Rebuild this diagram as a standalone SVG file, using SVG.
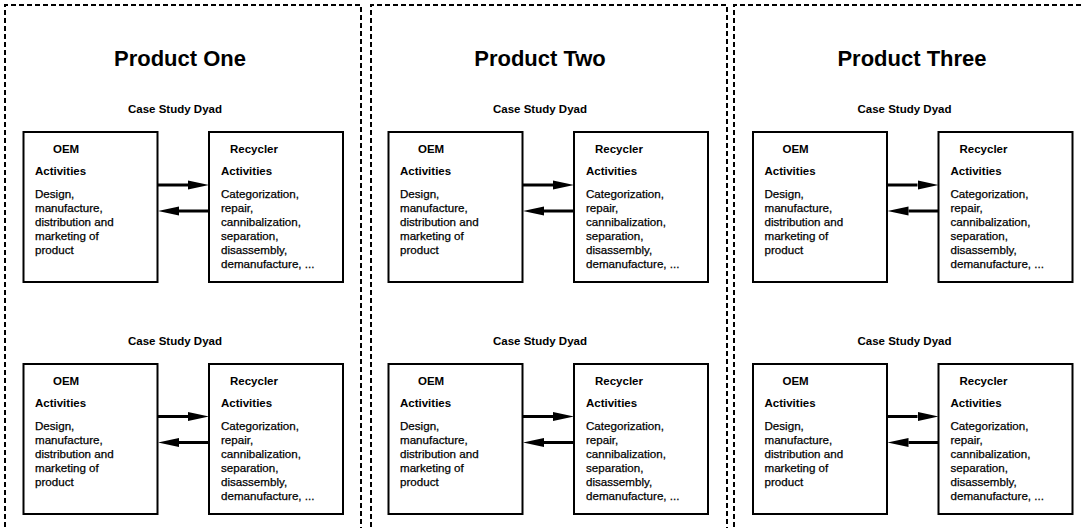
<svg xmlns="http://www.w3.org/2000/svg" xmlns:xlink="http://www.w3.org/1999/xlink" width="1081" height="528" viewBox="0 0 1081 528">
  <style>
    text { font-family: "Liberation Sans", Arial, Helvetica, sans-serif; fill: #000; }
    .title { font-size: 22px; font-weight: bold; text-anchor: middle; }
    .caption { font-size: 11.5px; font-weight: bold; text-anchor: middle; }
    .head { font-size: 11.5px; font-weight: bold; }
    .body { font-size: 11.6px; stroke: #000; stroke-width: 0.25; }
    .frame { fill: none; stroke: #000; stroke-width: 2; stroke-dasharray: 5 3; }
    .box { fill: #fff; stroke: #000; stroke-width: 2; }
    .flow { stroke: #000; stroke-width: 3; fill: none; }
  </style>
  <defs>
    <marker id="arrowhead" markerUnits="userSpaceOnUse" markerWidth="22" markerHeight="10" refX="0" refY="5" orient="auto" viewBox="0 0 22 10">
      <path d="M0,0.5 L21,5 L0,9.5 Z" fill="#000"/>
    </marker>

    <!-- one OEM / recycler pair, drawn at the first panel's top-row position -->
    <g id="oem-box">
      <rect class="box" x="23.5" y="132" width="134" height="150"/>
      <text class="head" x="53" y="153">OEM</text>
      <text class="head" x="35" y="175">Activities</text>
      <text class="body" x="35" y="197.5">Design,<tspan x="35" dy="14">manufacture,</tspan><tspan x="35" dy="14">distribution and</tspan><tspan x="35" dy="14">marketing of</tspan><tspan x="35" dy="14">product</tspan></text>
    </g>
    <g id="recycler-box">
      <rect class="box" x="209" y="132" width="134" height="150"/>
      <text class="head" x="230" y="153">Recycler</text>
      <text class="head" x="221" y="175">Activities</text>
      <text class="body" x="221" y="197.5">Categorization,<tspan x="221" dy="14">repair,</tspan><tspan x="221" dy="14">cannibalization,</tspan><tspan x="221" dy="14">separation,</tspan><tspan x="221" dy="14">disassembly,</tspan><tspan x="221" dy="14">demanufacture, ...</tspan></text>
    </g>
  </defs>

  <rect x="0" y="0" width="1081" height="528" fill="#fff"/>

  <!-- dashed product frames, open at the bottom -->
  <g id="panel-one">
    <path class="frame" d="M5,535 V5 H361 V535"/>
    <text class="title" x="180" y="66">Product One</text>
  </g>
  <g id="panel-two">
    <path class="frame" d="M371,535 V5 H727 V535"/>
    <text class="title" x="540" y="66">Product Two</text>
  </g>
  <g id="panel-three">
    <path class="frame" d="M734,535 V5 H1090 V535"/>
    <text class="title" x="912" y="66">Product Three</text>
  </g>

  <!-- case study dyads -->
  <g id="dyad-1-top">
    <text class="caption" x="175" y="113">Case Study Dyad</text>
    <g id="oem-1-top"><use xlink:href="#oem-box"/></g>
    <g id="recycler-1-top"><use xlink:href="#recycler-box"/></g>
  </g>
  <g id="dyad-1-bottom" transform="translate(0,232)">
    <text class="caption" x="175" y="113">Case Study Dyad</text>
    <g id="oem-1-bottom"><use xlink:href="#oem-box"/></g>
    <g id="recycler-1-bottom"><use xlink:href="#recycler-box"/></g>
  </g>
  <g id="dyad-2-top" transform="translate(365,0)">
    <text class="caption" x="175" y="113">Case Study Dyad</text>
    <g id="oem-2-top"><use xlink:href="#oem-box"/></g>
    <g id="recycler-2-top"><use xlink:href="#recycler-box"/></g>
  </g>
  <g id="dyad-2-bottom" transform="translate(365,232)">
    <text class="caption" x="175" y="113">Case Study Dyad</text>
    <g id="oem-2-bottom"><use xlink:href="#oem-box"/></g>
    <g id="recycler-2-bottom"><use xlink:href="#recycler-box"/></g>
  </g>
  <g id="dyad-3-top" transform="translate(729.5,0)">
    <text class="caption" x="175" y="113">Case Study Dyad</text>
    <g id="oem-3-top"><use xlink:href="#oem-box"/></g>
    <g id="recycler-3-top"><use xlink:href="#recycler-box"/></g>
  </g>
  <g id="dyad-3-bottom" transform="translate(729.5,232)">
    <text class="caption" x="175" y="113">Case Study Dyad</text>
    <g id="oem-3-bottom"><use xlink:href="#oem-box"/></g>
    <g id="recycler-3-bottom"><use xlink:href="#recycler-box"/></g>
  </g>

  <!-- flows between OEM and recycler: forward above, return below -->
  <g id="connectors">
    <g transform="translate(0,0)">
      <line class="flow" x1="158" y1="185" x2="188" y2="185" marker-end="url(#arrowhead)"/>
      <line class="flow" x1="209" y1="211" x2="179" y2="211" marker-end="url(#arrowhead)"/>
    </g>
    <g transform="translate(0,231.5)">
      <line class="flow" x1="158" y1="185" x2="188" y2="185" marker-end="url(#arrowhead)"/>
      <line class="flow" x1="209" y1="211" x2="179" y2="211" marker-end="url(#arrowhead)"/>
    </g>
    <g transform="translate(365,0)">
      <line class="flow" x1="158" y1="185" x2="188" y2="185" marker-end="url(#arrowhead)"/>
      <line class="flow" x1="209" y1="211" x2="179" y2="211" marker-end="url(#arrowhead)"/>
    </g>
    <g transform="translate(365,231.5)">
      <line class="flow" x1="158" y1="185" x2="188" y2="185" marker-end="url(#arrowhead)"/>
      <line class="flow" x1="209" y1="211" x2="179" y2="211" marker-end="url(#arrowhead)"/>
    </g>
    <g transform="translate(729.5,0)">
      <line class="flow" x1="158" y1="185" x2="188" y2="185" marker-end="url(#arrowhead)"/>
      <line class="flow" x1="209" y1="211" x2="179" y2="211" marker-end="url(#arrowhead)"/>
    </g>
    <g transform="translate(729.5,231.5)">
      <line class="flow" x1="158" y1="185" x2="188" y2="185" marker-end="url(#arrowhead)"/>
      <line class="flow" x1="209" y1="211" x2="179" y2="211" marker-end="url(#arrowhead)"/>
    </g>
  </g>
</svg>
